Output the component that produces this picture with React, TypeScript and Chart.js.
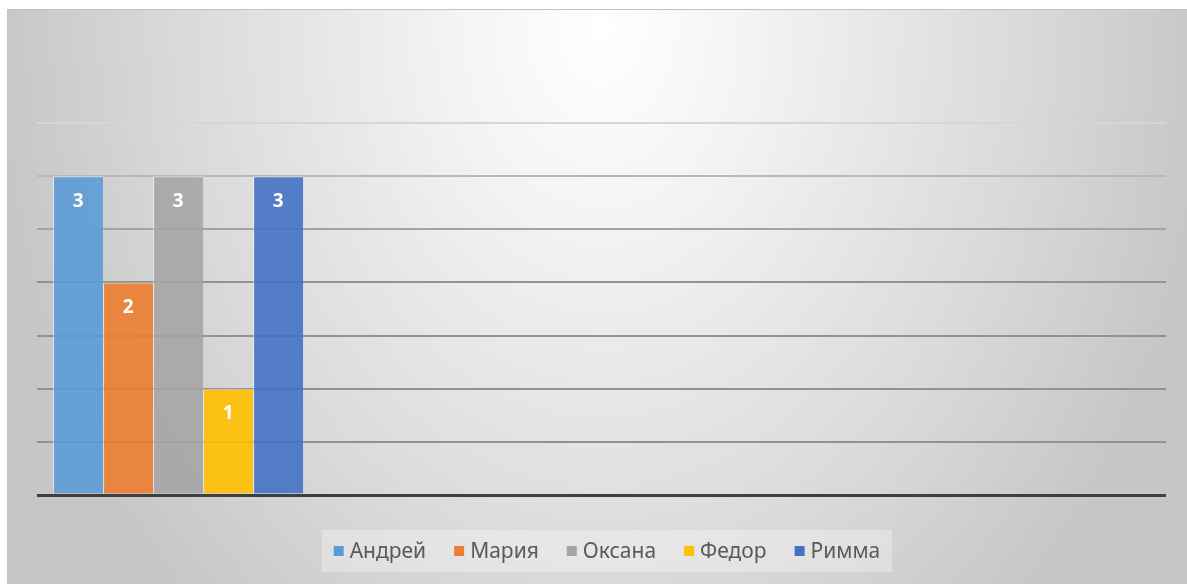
import React, { useEffect, useRef } from "react";
import { Chart, registerables } from "chart.js";

Chart.register(...registerables);

const categories = ["", "", "", ""];
const seriesNames = ["Андрей", "Мария", "Оксана", "Федор", "Римма"];
const seriesValues: (number | null)[][] = [
  [3, null, null, null],
  [2, null, null, null],
  [3, null, null, null],
  [1, null, null, null],
  [3, null, null, null],
];
const seriesColors = ["#5b9bd5", "#ed7d31", "#a5a5a5", "#ffc000", "#4472c4"];
const yMax = 3.5;
const yStep = 0.5;

const FONT = "'Noto Sans', 'Open Sans', sans-serif";

function hexToRgba(hex: string, a: number) {
  const n = parseInt(hex.slice(1), 16);
  return `rgba(${(n >> 16) & 255},${(n >> 8) & 255},${n & 255},${a})`;
}

const backgroundPlugin = {
  id: "bgGradient",
  beforeDraw(chart: any) {
    const { ctx, width, height } = chart;
    ctx.save();
    const cx = 595;
    const cy = 20;
    const R = 610;
    const k = 1.3;
    ctx.translate(cx, cy);
    ctx.scale(1, k);
    const g = ctx.createRadialGradient(0, 0, 0, 0, 0, R);
    g.addColorStop(0, "#ffffff");
    g.addColorStop(0.25, "#f3f3f3");
    g.addColorStop(0.7, "#d9d9d9");
    g.addColorStop(1, "#c6c6c6");
    ctx.fillStyle = g;
    ctx.fillRect(-cx, -cy / k, width, height / k + 10);
    ctx.restore();
    ctx.save();
    ctx.fillStyle = "#c4c4c4";
    ctx.fillRect(0, 0, width, 1);
    ctx.restore();
  },
};

const labelPlugin = {
  id: "barLabels",
  afterDatasetsDraw(chart: any) {
    const { ctx } = chart;
    ctx.save();
    ctx.font = `bold 19px ${FONT}`;
    ctx.fillStyle = "#ffffff";
    ctx.textAlign = "center";
    ctx.textBaseline = "middle";
    chart.data.datasets.forEach((ds: any, i: number) => {
      const meta = chart.getDatasetMeta(i);
      meta.data.forEach((el: any, j: number) => {
        const v = ds.data[j];
        if (v === null || v === undefined) return;
        ctx.fillText(String(v), el.x, el.y + 25);
      });
    });
    ctx.restore();
  },
};

const legendPlugin = {
  id: "customLegend",
  afterDraw(chart: any) {
    const { ctx } = chart;
    ctx.save();
    const fontSize = 21;
    ctx.font = `${fontSize}px ${FONT}`;
    const box = 10;
    const gapText = 6;
    const itemGap = 28;
    const widths = seriesNames.map((n) => ctx.measureText(n).width);
    const total =
      widths.reduce((a, w) => a + box + gapText + w, 0) + itemGap * (seriesNames.length - 1);
    const centerX = 600;
    const centerY = 542;
    ctx.fillStyle = "rgba(255,255,255,0.3)";
    ctx.fillRect(centerX - total / 2 - 12, centerY - 21, total + 24, 42);
    let x = centerX - total / 2;
    ctx.textBaseline = "middle";
    ctx.textAlign = "left";
    seriesNames.forEach((n, i) => {
      ctx.fillStyle = seriesColors[i];
      ctx.fillRect(x, centerY - box / 2, box, box);
      ctx.fillStyle = "#595959";
      ctx.fillText(n, x + box + gapText, centerY + 1);
      x += box + gapText + widths[i] + itemGap;
    });
    ctx.restore();
  },
};

export default function App() {
  const canvasRef = useRef<HTMLCanvasElement | null>(null);

  useEffect(() => {
    if (!canvasRef.current) return;
    const chart = new Chart(canvasRef.current, {
      type: "bar",
      data: {
        labels: categories,
        datasets: seriesNames.map((name, i) => ({
          label: name,
          data: seriesValues[i],
          backgroundColor: hexToRgba(seriesColors[i], 0.9),
          borderColor: "rgba(255,255,255,0.55)",
          borderWidth: { left: 1, right: 0, top: 1, bottom: 0 },
          categoryPercentage: 0.886,
          barPercentage: 1,
        })),
      },
      options: {
        animation: false,
        responsive: true,
        maintainAspectRatio: false,
        layout: { padding: { left: 30, right: 21, top: 114, bottom: 89 } },
        plugins: {
          legend: { display: false },
          tooltip: { enabled: false },
        },
        scales: {
          x: {
            display: true,
            ticks: { display: false },
            grid: { display: false, drawTicks: false },
            border: { display: false },
          },
          y: {
            display: true,
            min: 0,
            max: yMax,
            ticks: { display: false, stepSize: yStep },
            border: { display: false },
            grid: {
              drawTicks: false,
              color: (c: any) => {
                const v = c.tick ? c.tick.value : 0;
                if (v === 0) return "#3f3f3f";
                if (v >= 3.5) return "#d6d6d6";
                if (v >= 3) return "#b8b8b8";
                if (v >= 2.5) return "#a3a3a3";
                return "#929292";
              },
              lineWidth: (c: any) => (c.tick && c.tick.value === 0 ? 3 : 2),
            },
            afterFit: (scale: any) => {
              scale.width = 0;
            },
          },
        },
      },
      plugins: [backgroundPlugin, labelPlugin, legendPlugin],
    });
    return () => chart.destroy();
  }, []);

  return (
    <div style={{ position: "fixed", left: 7, top: 9, width: 1180, height: 575 }}>
      <canvas ref={canvasRef} />
    </div>
  );
}
